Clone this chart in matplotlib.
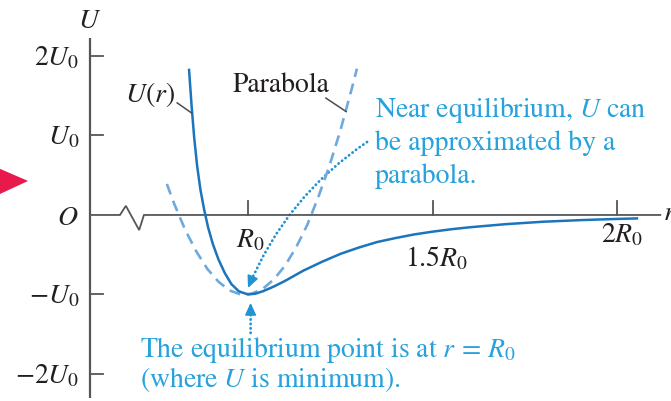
import matplotlib.pyplot as plt
from matplotlib.patches import FancyArrowPatch, Polygon

# potential energy U(r), r in units of R0 and U in units of U0
r_curve = [0.840, 0.847, 0.854, 0.862, 0.871, 0.881, 0.892, 0.905, 0.920, 0.937,
           0.955, 0.975, 1.000, 1.020, 1.040, 1.070, 1.100, 1.150, 1.200, 1.250,
           1.300, 1.350, 1.400, 1.450, 1.500, 1.550, 1.600, 1.650, 1.700, 1.750,
           1.800, 1.850, 1.900, 1.950, 2.000, 2.057]
u_curve = [1.84, 1.38, 0.98, 0.62, 0.32, 0.07, -0.16, -0.37, -0.56, -0.73,
           -0.87, -0.96, -1.00, -0.99, -0.96, -0.90, -0.83, -0.70, -0.59, -0.49,
           -0.41, -0.34, -0.29, -0.245, -0.21, -0.18, -0.155, -0.135, -0.115, -0.10,
           -0.085, -0.075, -0.065, -0.057, -0.05, -0.043]

# parabola that approximates U(r) near the minimum
r_para = [0.780, 0.800, 0.830, 0.860, 0.890, 0.920, 0.950, 0.980, 1.010, 1.040,
          1.070, 1.100, 1.130, 1.160, 1.190, 1.220, 1.250, 1.280, 1.295]
u_para = [0.39, 0.14, -0.19, -0.46, -0.68, -0.84, -0.95, -1.00, -0.99, -0.93,
          -0.81, -0.64, -0.41, -0.13, 0.22, 0.61, 1.06, 1.57, 1.84]

u_ticks = [2, 1, -1, -2]
u_tick_labels = ['$2U_0$', '$U_0$', '$-U_0$', '$-2U_0$']
r_ticks = [1.0, 1.5, 2.0]
r_tick_labels = ['$R_0$', '$1.5R_0$', '$2R_0$']
r_label_offsets = [(1.5, -23), (2.5, -37), (3.5, -20)]  # points

CURVE = '#1b75bc'
PARA = '#6fa9de'
NOTE = '#27a2dc'
ARROW = '#2193d2'
INK = '#231f20'
AXIS = '#55565a'
LEADER = '#4d4d4f'

plt.rcParams['font.family'] = 'STIXGeneral'
plt.rcParams['mathtext.fontset'] = 'stix'
FS = 20

fig = plt.figure(figsize=(6.71, 4.01), dpi=100)
ax = fig.add_axes([0, 0, 1, 1])
ax.set_xlim(0.328, 2.146)
ax.set_ylim(-2.34, 2.704)
ax.axis('off')

# axes, with a break in the r axis
R_AXIS = 0.572
ax.plot([R_AXIS, R_AXIS], [-2.30, 2.23], color=AXIS, lw=1.6, solid_capstyle='butt')
ax.plot([R_AXIS, 0.653, 0.669, 0.705, 0.718, 2.117], [0, 0, 0.115, -0.19, 0, 0],
        color=AXIS, lw=1.3, solid_joinstyle='miter')
for u, lab in zip(u_ticks, u_tick_labels):
    ax.plot([R_AXIS, R_AXIS + 0.035], [u, u], color=AXIS, lw=1.3)
    ax.annotate(lab, (R_AXIS, u), xytext=(-7.5, -6.5), textcoords='offset points',
                ha='right', va='baseline', fontsize=FS, color=INK)
ax.annotate('$O$', (R_AXIS, 0), xytext=(-8.5, -7.5), textcoords='offset points',
            ha='right', va='baseline', fontsize=FS, color=INK)
for r, lab, off in zip(r_ticks, r_tick_labels, r_label_offsets):
    ax.plot([r, r], [0, 0.176], color=AXIS, lw=1.3)
    ax.annotate(lab, (r, 0), xytext=off, textcoords='offset points',
                ha='center', va='baseline', fontsize=FS, color=INK)
ax.text(R_AXIS, 2.43, '$U$', ha='center', va='center', fontsize=FS, color=INK)
ax.text(2.125, 0.02, '$r$', ha='left', va='center', fontsize=FS, color=INK)

# curves
ax.plot(r_para, u_para, color=PARA, lw=1.9, linestyle=(0, (4.2, 2.6)))
ax.plot(r_curve, u_curve, color=CURVE, lw=1.8, solid_capstyle='butt')

# labels with leader lines
ax.text(0.667, 1.42, '$U(r)$', ha='left', va='baseline', fontsize=FS, color=INK)
ax.plot([0.808, 0.848], [1.41, 1.28], color=LEADER, lw=1.1)
ax.text(0.957, 1.55, 'Parabola', ha='left', va='baseline', fontsize=FS, color=INK)
ax.plot([1.211, 1.266], [1.47, 1.30], color=LEADER, lw=1.1)

# notes in blue
for i, line in enumerate(['Near equilibrium, $U$ can', 'be approximated by a', 'parabola.']):
    ax.text(1.344, 1.233 - 0.415 * i, line, ha='left', va='baseline', fontsize=FS, color=NOTE)
for i, line in enumerate(['The equilibrium point is at $r\\,=\\,R_0$', '(where $U$ is minimum).']):
    ax.text(0.707, -1.786 - 0.378 * i, line, ha='left', va='baseline', fontsize=FS, color=NOTE)


def dotted_arrow(start, tip, head_from, rad=0.0):
    body = FancyArrowPatch(start, tip, arrowstyle='-', connectionstyle=f'arc3,rad={rad}',
                           color=ARROW, lw=2.0, linestyle=(0, (0.1, 1.5)),
                           shrinkA=0, shrinkB=0)
    body.set_capstyle('round')
    ax.add_patch(body)
    head = FancyArrowPatch(head_from, tip, arrowstyle='-|>,head_length=0.6,head_width=0.28',
                           mutation_scale=12, color=ARROW, lw=1.2, shrinkA=0, shrinkB=0)
    ax.add_patch(head)


dotted_arrow((1.3225, 0.918), (1.0, -0.918), (1.0114, -0.792), rad=0.15)
dotted_arrow((1.007, -1.484), (1.007, -1.107), (1.007, -1.24))

# pointer at the left edge
ax.add_patch(Polygon([(0.3225, 0.591), (0.404, 0.428), (0.3225, 0.252)],
                     closed=True, color='#e8194b', lw=0, clip_on=False))

fig.savefig('out.png', dpi=100)
